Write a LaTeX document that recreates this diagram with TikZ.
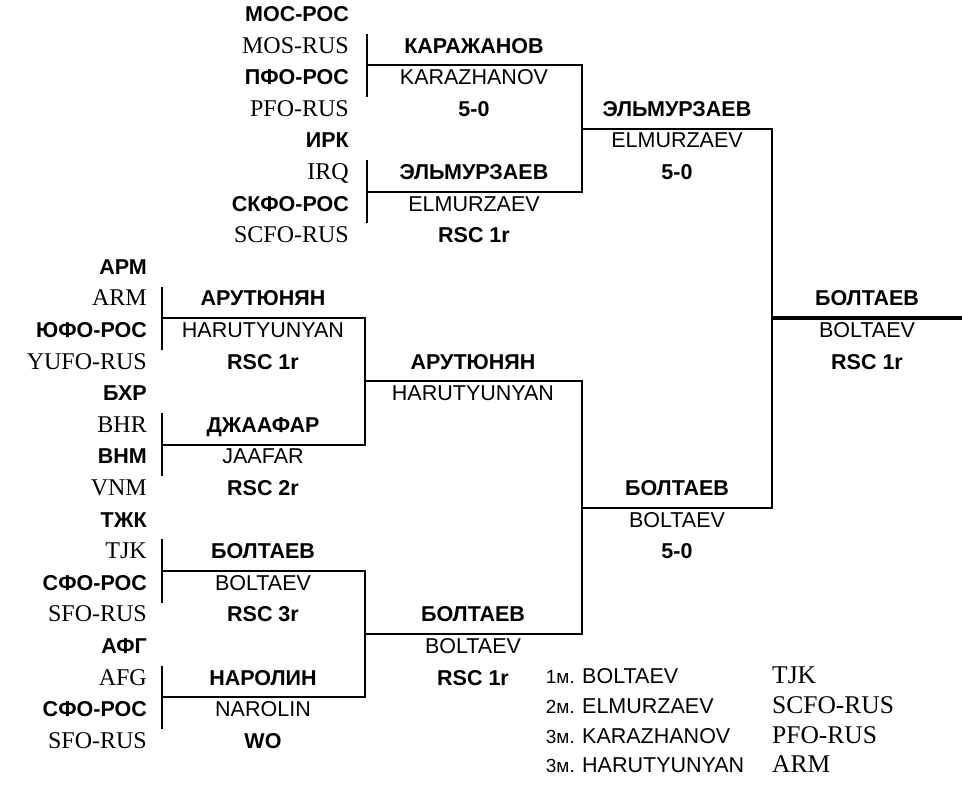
\documentclass[tikz,border=0pt]{standalone}
\usepackage{fontspec}
\setmainfont{Liberation Serif}
\newfontfamily\namefont{Liberation Sans}
\usetikzlibrary{positioning}

\begin{document}
\begin{tikzpicture}[
  x=1pt, y=-31.6pt,
  txt/.style={inner sep=0pt, text height=0.7em, text depth=0pt},
  ctyru/.style={txt, anchor=east, font=\namefont\bfseries\fontsize{21.5}{21.5}\selectfont},
  ctyen/.style={txt, anchor=east, font=\fontsize{24}{24}\selectfont},
  nmru/.style={txt, font=\namefont\bfseries\fontsize{21.5}{21.5}\selectfont},
  nmen/.style={txt, font=\namefont\fontsize{21.5}{21.5}\selectfont},
  res/.style={nmru},
  plc/.style={txt, anchor=east, font=\namefont\fontsize{19}{19}\selectfont},
  plnm/.style={txt, anchor=west, font=\namefont\fontsize{21.5}{21.5}\selectfont},
  plct/.style={txt, anchor=west, font=\fontsize{25.5}{25.5}\selectfont},
  lnk/.style={line width=2pt},
  fin/.style={line width=3.5pt},
]
  \useasboundingbox (0,-0.5696) rectangle (962,24.335);

  % Countries, upper half
  \foreach \t [count=\i from 0] in {МОС-РОС,ПФО-РОС,ИРК,СКФО-РОС}
    \node[ctyru] (tr\i) at (349,2*\i) {\t};
  \foreach \t [count=\i from 0] in {MOS-RUS,PFO-RUS,IRQ,SCFO-RUS}
    \node[ctyen] (te\i) at (349,2*\i+1) {\t};

  % Countries, lower half
  \foreach \t [count=\i from 0] in {АРМ,ЮФО-РОС,БХР,ВНМ,ТЖК,СФО-РОС,АФГ,СФО-РОС}
    \node[ctyru] (br\i) at (147,2*\i+8) {\t};
  \foreach \t [count=\i from 0] in {ARM,YUFO-RUS,BHR,VNM,TJK,SFO-RUS,AFG,SFO-RUS}
    \node[ctyen] (be\i) at (147,2*\i+9) {\t};

  % Entry bars
  \foreach \r in {0,4}
    \draw[lnk] (367,\r+0.5) -- (367,\r+2.5);
  \foreach \r in {8,12,16,20}
    \draw[lnk] (162,\r+0.5) -- (162,\r+2.5);

  % Brackets
  \draw[lnk] (367,1.5) -| (582,5.5) -- (367,5.5);
  \draw[lnk] (582,3.5) -| (772,15.5) -- (582,15.5);
  \draw[lnk] (162,9.5) -| (365,13.5) -- (162,13.5);
  \draw[lnk] (162,17.5) -| (365,21.5) -- (162,21.5);
  \draw[lnk] (365,11.5) -| (582,19.5) -- (365,19.5);
  \draw[fin] (772,9.5) -- (962,9.5);

  % Round 1, upper half
  \node[nmru] (kar1) at (474,1) {КАРАЖАНОВ};
  \node[nmen] (kar2) at (474,2) {KARAZHANOV};
  \node[res]  (kar3) at (474,3) {5-0};
  \node[nmru] (elm1) at (474,5) {ЭЛЬМУРЗАЕВ};
  \node[nmen] (elm2) at (474,6) {ELMURZAEV};
  \node[res]  (elm3) at (474,7) {RSC 1r};

  % Round 1, lower half
  \node[nmru] (har1) at (263,9) {АРУТЮНЯН};
  \node[nmen] (har2) at (263,10) {HARUTYUNYAN};
  \node[res]  (har3) at (263,11) {RSC 1r};
  \node[nmru] (jaa1) at (263,13) {ДЖААФАР};
  \node[nmen] (jaa2) at (263,14) {JAAFAR};
  \node[res]  (jaa3) at (263,15) {RSC 2r};
  \node[nmru] (bol1) at (263,17) {БОЛТАЕВ};
  \node[nmen] (bol2) at (263,18) {BOLTAEV};
  \node[res]  (bol3) at (263,19) {RSC 3r};
  \node[nmru] (nar1) at (263,21) {НАРОЛИН};
  \node[nmen] (nar2) at (263,22) {NAROLIN};
  \node[res]  (nar3) at (263,23) {WO};

  % Round 2
  \node[nmru] (harb1) at (473,11) {АРУТЮНЯН};
  \node[nmen] (harb2) at (473,12) {HARUTYUNYAN};
  \node[nmru] (bolb1) at (473,19) {БОЛТАЕВ};
  \node[nmen] (bolb2) at (473,20) {BOLTAEV};
  \node[res]  (bolb3) at (473,21) {RSC 1r};

  % Semi-finals
  \node[nmru] (elmc1) at (677,3) {ЭЛЬМУРЗАЕВ};
  \node[nmen] (elmc2) at (677,4) {ELMURZAEV};
  \node[res]  (elmc3) at (677,5) {5-0};
  \node[nmru] (bolc1) at (677,15) {БОЛТАЕВ};
  \node[nmen] (bolc2) at (677,16) {BOLTAEV};
  \node[res]  (bolc3) at (677,17) {5-0};

  % Final
  \node[nmru] (fin1) at (867,9) {БОЛТАЕВ};
  \node[nmen] (fin2) at (867,10) {BOLTAEV};
  \node[res]  (fin3) at (867,11) {RSC 1r};

  % Places
  \node[plc]  (pl1) at (575,20.95) {1м.};
  \node[plnm] (pl1n) at (582,20.95) {BOLTAEV};
  \node[plct] (pl1c) at (772,20.95) {TJK};
  \node[plc]  (pl2) at (575,21.9) {2м.};
  \node[plnm] (pl2n) at (582,21.9) {ELMURZAEV};
  \node[plct] (pl2c) at (772,21.9) {SCFO-RUS};
  \node[plc]  (pl3) at (575,22.85) {3м.};
  \node[plnm] (pl3n) at (582,22.85) {KARAZHANOV};
  \node[plct] (pl3c) at (772,22.85) {PFO-RUS};
  \node[plc]  (pl4) at (575,23.77) {3м.};
  \node[plnm] (pl4n) at (582,23.77) {HARUTYUNYAN};
  \node[plct] (pl4c) at (772,23.77) {ARM};
\end{tikzpicture}
\end{document}
